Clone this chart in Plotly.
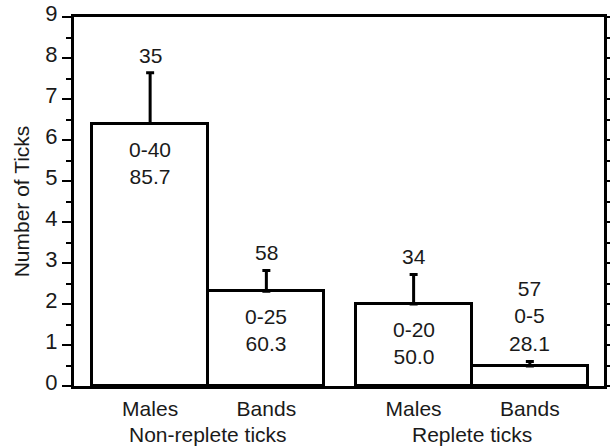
import plotly.graph_objects as go

# ---- data ----
groups = ["Non-replete ticks", "Replete ticks"]
bar_labels = ["Males", "Bands", "Males", "Bands"]
bar_group = [0, 0, 1, 1]
means = [6.4, 2.31, 2.0, 0.49]
errors = [1.24, 0.51, 0.72, 0.11]
n_labels = ["35", "58", "34", "57"]
range_labels = ["0-40", "0-25", "0-20", "0-5"]
pct_labels = ["85.7", "60.3", "50.0", "28.1"]
y_ticks = list(range(0, 10))

# ---- layout helpers ----
GROUP_GAP = 0.267
xpos = []
for i, g in enumerate(bar_group):
    within = sum(1 for j in range(i) if bar_group[j] == g)
    start = g * (2 + GROUP_GAP)
    xpos.append(start + within)

FONT = "Liberation Sans, Arial, Helvetica, sans-serif"
FS = 21
TXT = "#1a1a1a"
LW = 3

fig = go.Figure()
fig.add_trace(go.Bar(
    x=xpos, y=means, width=1.0,
    marker=dict(color="white", line=dict(color="black", width=LW)),
    error_y=dict(type="data", array=errors, arrayminus=[0] * len(errors),
                 symmetric=False, color="black", thickness=LW, width=4),
    showlegend=False, hoverinfo="skip",
))
# invisible trace to anchor right axis
fig.add_trace(go.Scatter(x=[xpos[0]], y=[0], yaxis="y2", mode="markers",
                         marker=dict(opacity=0), showlegend=False, hoverinfo="skip"))

annotations = []
for i in range(len(means)):
    top = means[i] + errors[i]
    if means[i] < 1.0:
        annotations.append(dict(x=xpos[i], y=top, xref="x", yref="y",
                                text=f"{n_labels[i]}<br>{range_labels[i]}<br>{pct_labels[i]}",
                                showarrow=False, yanchor="bottom", yshift=4,
                                font=dict(family=FONT, size=FS, color=TXT)))
    else:
        annotations.append(dict(x=xpos[i], y=top, xref="x", yref="y",
                                text=n_labels[i], showarrow=False, yanchor="bottom", yshift=4,
                                font=dict(family=FONT, size=FS, color=TXT)))
        annotations.append(dict(x=xpos[i], y=means[i], xref="x", yref="y",
                                text=f"{range_labels[i]}<br>{pct_labels[i]}",
                                showarrow=False, yanchor="top", yshift=-12,
                                font=dict(family=FONT, size=FS, color=TXT)))

for g, name in enumerate(groups):
    xs = [xpos[i] for i in range(len(xpos)) if bar_group[i] == g]
    annotations.append(dict(x=sum(xs) / len(xs), y=0, xref="x", yref="paper",
                            text=name, showarrow=False, yanchor="top", yshift=-35,
                            font=dict(family=FONT, size=FS, color=TXT)))

left = xpos[0] - 0.5 - 0.155
right = xpos[-1] + 0.5 + 0.138

fig.update_layout(
    width=610, height=447,
    margin=dict(l=74, r=6, t=17, b=61, autoexpand=False),
    paper_bgcolor="white", plot_bgcolor="white",
    font=dict(family=FONT, size=FS, color=TXT),
    bargap=0,
    annotations=annotations,
    xaxis=dict(range=[left, right], tickvals=xpos, ticktext=bar_labels,
               showline=True, linecolor="black", linewidth=LW, mirror=True,
               ticks="", showgrid=False, zeroline=False, automargin=False,
               ticklabelstandoff=2,
               tickfont=dict(family=FONT, size=FS, color=TXT)),
    yaxis=dict(range=[0, 9], tickvals=y_ticks, showline=True, linecolor="black",
               linewidth=LW, ticks="outside", ticklen=9, tickwidth=2, tickcolor="black",
               minor=dict(dtick=0.5, ticks="outside", ticklen=5, tickwidth=2, tickcolor="black"),
               showgrid=False, zeroline=False, automargin=False,
               ticklabelshift=-4,
               tickfont=dict(family=FONT, size=22, color=TXT),
               title=dict(text="Number of Ticks", standoff=10,
                          font=dict(family=FONT, size=FS, color=TXT))),
    yaxis2=dict(range=[0, 9], overlaying="y", side="right", showline=True,
                linecolor="black", linewidth=LW, ticks="outside", ticklen=6,
                tickwidth=2, tickcolor="black", dtick=0.5, tick0=0,
                showticklabels=False, showgrid=False, zeroline=False, automargin=False),
)

fig.write_html("out.html", config={"displayModeBar": False},
               post_script="document.body.style.margin='0';document.body.style.overflow='hidden';")
